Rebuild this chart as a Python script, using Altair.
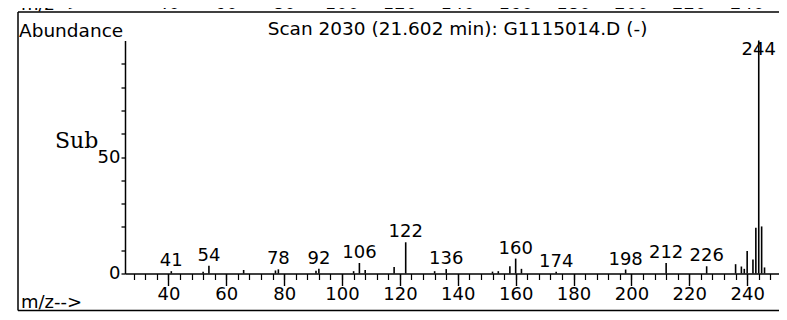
import altair as alt
import pandas as pd

# ---- data ----
mz = [41, 52, 54, 66, 77, 78, 91, 92, 104, 106, 108, 118, 122, 132, 136,
      152, 154, 158, 160, 162, 174, 198, 212, 226, 236, 238, 239, 240,
      242, 243, 244, 245, 246]
abundance = [1.0, 0.8, 3.3, 1.5, 1.3, 1.8, 1.2, 2.0, 1.0, 4.5, 1.5, 2.8, 13.4,
             1.0, 1.9, 0.8, 1.0, 3.1, 6.4, 2.0, 0.8, 1.7, 4.5, 3.1, 4.0, 3.0,
             2.0, 9.7, 6.0, 19.6, 100.0, 20.2, 2.6]
labeled = [41, 54, 78, 92, 106, 122, 136, 160, 174, 198, 212, 226]
base_peak = 244

x_major = [40, 60, 80, 100, 120, 140, 160, 180, 200, 220, 240]
x_minor = list(range(28, 252, 4))
y_ticks = [0, 10, 20, 30, 40, 50, 60, 70, 80, 90]

title_text = "Scan 2030 (21.602 min): G1115014.D (-)"
ylabel_text = "Abundance"
xlabel_text = "m/z-->"
note_text = "Sub"

df = pd.DataFrame({"mz": mz, "ab": abundance})
df["lab"] = df["mz"].astype(str)

FONT = "DejaVu Sans"
SERIF = "DejaVu Serif"
W, H = 654, 233

xscale = alt.Scale(domain=[25, 251], nice=False, zero=False)
yscale = alt.Scale(domain=[0, 100], nice=False)

y_axis = alt.Axis(
    title=None, values=y_ticks, tickSize=4, tickWidth=1.3, tickColor="black",
    domainColor="black", domainWidth=1.5, labelFont=FONT, labelFontSize=18,
    labelColor="black", labelPadding=1, grid=False,
    labelExpr="datum.value == 0 || datum.value == 50 ? datum.label : ''")

peaks = alt.Chart(df).mark_rule(color="black", strokeWidth=1.6).encode(
    x=alt.X("mz:Q", scale=xscale, axis=alt.Axis(
        title=None, orient="bottom", values=x_major, tickSize=12,
        tickWidth=1.4, tickColor="black", domainColor="black",
        domainWidth=1.5, labelFont=FONT, labelFontSize=18,
        labelColor="black", labelPadding=0, grid=False, labelFlush=False)),
    y=alt.Y("ab:Q", scale=yscale, axis=y_axis),
    y2=alt.datum(0),
)

minor = alt.Chart(df).mark_point(opacity=0).encode(
    x=alt.X("mz:Q", scale=xscale, axis=alt.Axis(
        title=None, orient="bottom", values=x_minor, tickSize=6,
        tickWidth=1.2, tickColor="black", domain=False, labels=False,
        grid=False)),
    y=alt.Y("ab:Q", scale=yscale, axis=y_axis),
)

labels = alt.Chart(df).transform_filter(
    alt.FieldOneOfPredicate(field="mz", oneOf=labeled)
).mark_text(font=FONT, fontSize=18, color="black", baseline="alphabetic",
            align="center", dy=-5).encode(
    x=alt.X("mz:Q", scale=xscale, axis=None),
    y=alt.Y("ab:Q", scale=yscale, axis=y_axis), text="lab:N")

base_label = alt.Chart(df).transform_filter(
    alt.datum.mz == base_peak
).mark_text(font=FONT, fontSize=18, color="black", baseline="alphabetic",
            align="center", dy=14.5).encode(
    x=alt.X("mz:Q", scale=xscale, axis=None),
    y=alt.Y("ab:Q", scale=yscale, axis=y_axis), text="lab:N")

def txt(s, x, y, size=18.5, font=FONT, align="left"):
    return alt.Chart(pd.DataFrame({"t": [s]})).mark_text(
        font=font, fontSize=size, color="black", align=align,
        baseline="alphabetic").encode(x=alt.value(x), y=alt.value(y), text="t:N")

def line(x1, x2, y1, y2, w=1.5):
    return alt.Chart(pd.DataFrame({"a": [0]})).mark_rule(
        color="black", strokeWidth=w).encode(
        x=alt.value(x1), x2=alt.value(x2), y=alt.value(y1), y2=alt.value(y2))

title = txt(title_text, 332.5, -5.5, align="center")
ylab = txt(ylabel_text, -106, -3.5)
xlab = txt(xlabel_text, -104, 267.5, size=18)
note = txt(note_text, -70, 107, size=22, font=SERIF)
top_nums = alt.Chart(pd.DataFrame({"v": x_major})).mark_text(
    font=FONT, fontSize=18, color="black", baseline="alphabetic",
    align="center").encode(x=alt.X("v:Q", scale=xscale, axis=None),
                           y=alt.value(-31.5), text="v:N")
top_xlab = txt(xlabel_text, -104, -31, size=18)

frame = (line(-107, 662, -28.5, -28.5) + line(-107, -107, -28.5, 270) +
         line(-107, 662, 270, 270))

chart = alt.layer(
    frame, top_nums, top_xlab, title, ylab, xlab, note,
    minor, peaks, labels, base_label,
).resolve_axis(x="independent").properties(
    width=W, height=H,
    autosize=alt.AutoSizeParams(type="none"),
    padding={"left": 117, "top": 32.5, "right": 0, "bottom": 38.5},
    background="white",
).configure_view(stroke=None)

chart.save("out.html", embed_options={"renderer": "svg", "actions": False})
